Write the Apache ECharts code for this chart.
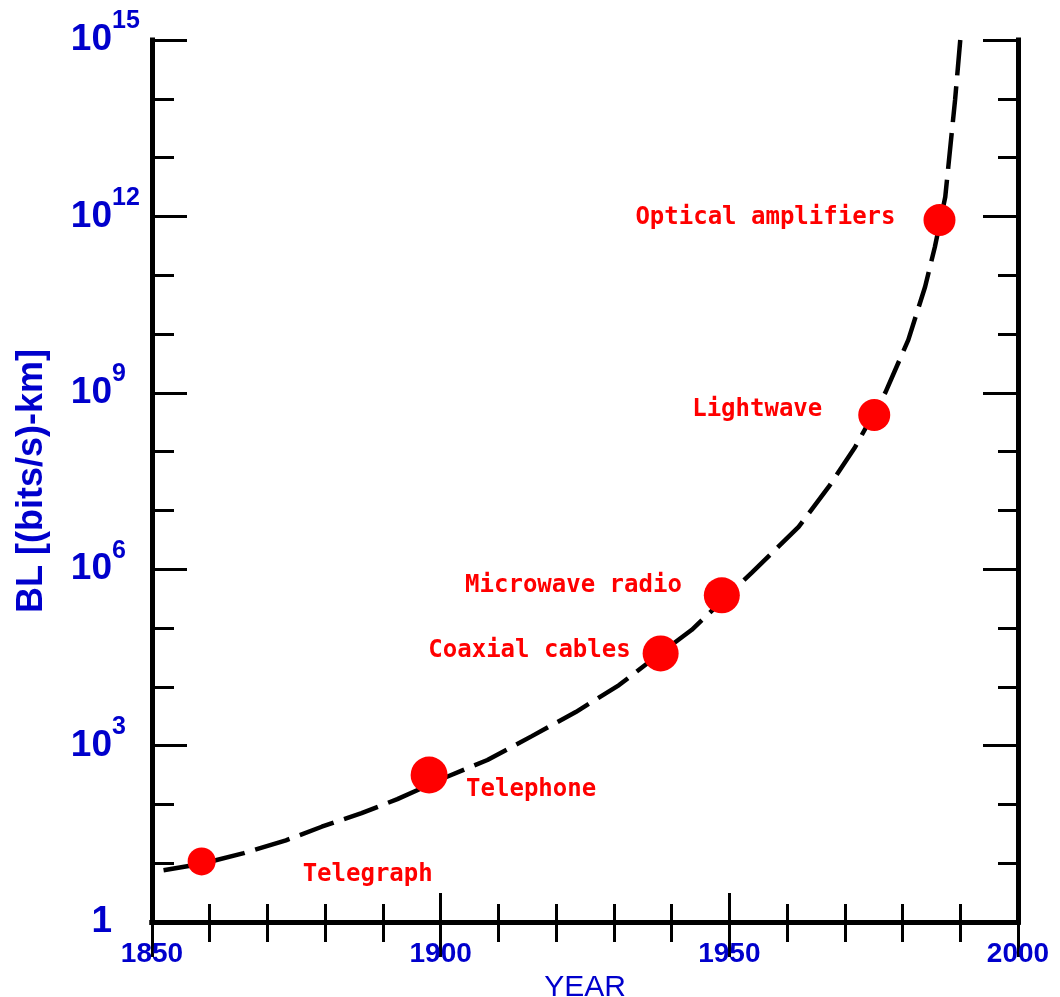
<!DOCTYPE html>
<html><head><meta charset="utf-8">
<script src="https://cdn.jsdelivr.net/npm/echarts@6.0.0/dist/echarts.min.js"></script>
<style>html,body{margin:0;padding:0;background:#fff}#c{width:1060px;height:997px}</style>
</head><body><div id="c"></div>
<script>
// ---- data ----
const milestoneNames = ['Telegraph', 'Telephone', 'Coaxial cables', 'Microwave radio', 'Lightwave', 'Optical amplifiers'];
const milestoneYears = [1858.6, 1898.0, 1938.1, 1948.7, 1975.1, 1986.4];
const milestoneBL = [1.07e1, 3.16e2, 3.7e4, 3.6e5, 4.2e8, 8.7e11];

const curveYears = [1852.0, 1858.6, 1865.9, 1873.2, 1879.4, 1886.3, 1892.5, 1901.1, 1908.1, 1915.8, 1923.4, 1930.9, 1936.6, 1943.5, 1953.9, 1962.0, 1967.2, 1971.8, 1977.0, 1981.0, 1983.9, 1985.6, 1987.4, 1989.1, 1990.0];
const curveBL = [7.6, 9.8, 14.8, 24.5, 41.7, 70.8, 123, 295, 569, 1.45e3, 3.72e3, 1.07e4, 2.88e4, 9.33e4, 8.71e5, 5.25e6, 2.51e7, 1.20e8, 1.0e9, 7.94e9, 6.31e10, 3.02e11, 2.14e12, 9.55e13, 1e15];

const yearTickLabels = [1850, 1900, 1950, 2000];
const blTickExponents = [0, 3, 6, 9, 12, 15];

// ---- styling (kept separate from data) ----
const BLUE = '#0000CC';
const RED = '#FF0000';
const SANS = 'Liberation Sans, Arial, sans-serif';
const dotSizes = [28, 37, 36, 36, 32, 32];
const labelPlacement = [
  {align: 'left', dx: 101, dy: 13},
  {align: 'left', dx: 37, dy: 15},
  {align: 'right', dx: -30, dy: -3},
  {align: 'right', dx: -40, dy: -10},
  {align: 'right', dx: -52, dy: -5},
  {align: 'right', dx: -44, dy: -2}
];

const chart = echarts.init(document.getElementById('c'), null, {renderer: 'canvas'});

const xMin = yearTickLabels[0], xMax = yearTickLabels[yearTickLabels.length - 1];
const xStep = yearTickLabels[1] - yearTickLabels[0];
const yMin = blTickExponents[0], yMax = blTickExponents[blTickExponents.length - 1];
const yStep = blTickExponents[1] - blTickExponents[0];

const axisLineStyle = {color: '#000', width: 5, cap: 'square'};
const tickStyle = {color: '#000', width: 3};

const curveData = curveYears.map((yr, i) => [yr, Math.log10(curveBL[i])]);
const dotData = milestoneYears.map((yr, i) => ({
  name: milestoneNames[i],
  value: [yr, Math.log10(milestoneBL[i])],
  symbolSize: dotSizes[i],
  label: {
    show: true,
    position: 'inside',
    align: labelPlacement[i].align,
    verticalAlign: 'middle',
    offset: [labelPlacement[i].dx, labelPlacement[i].dy],
    formatter: '{b}'
  }
}));

const hiddenY = {
  type: 'value', position: 'left', min: yMin, max: yMax, interval: yStep,
  axisLine: {show: false}, axisTick: {show: false}, splitLine: {show: false}
};

const option = {
  backgroundColor: '#fff',
  animation: false,
  grid: {left: 152, right: 42, top: 40, bottom: 75, containLabel: false, outerBoundsMode: 'none'},
  xAxis: [
    {
      type: 'value', position: 'bottom', min: xMin, max: xMax, interval: xStep,
      axisLine: {show: true, lineStyle: axisLineStyle},
      axisTick: {show: true, inside: true, length: 29, lineStyle: tickStyle},
      minorTick: {show: true, splitNumber: 5, length: 18, lineStyle: tickStyle},
      splitLine: {show: false},
      axisLabel: {color: BLUE, fontFamily: SANS, fontWeight: 'bold', fontSize: 28, margin: 18,
                  formatter: v => String(v)},
      name: 'YEAR', nameLocation: 'middle', nameGap: 48,
      nameTextStyle: {color: BLUE, fontFamily: SANS, fontSize: 30}
    },
    {
      type: 'value', position: 'top', min: xMin, max: xMax, interval: xStep,
      axisLine: {show: true, lineStyle: axisLineStyle},
      axisTick: {show: true, inside: true, length: 35, lineStyle: tickStyle},
      minorTick: {show: true, splitNumber: 5, length: 20, lineStyle: tickStyle},
      splitLine: {show: false},
      axisLabel: {show: false}
    }
  ],
  yAxis: [
    {
      type: 'value', position: 'left', min: yMin, max: yMax, interval: yStep,
      axisLine: {show: true, lineStyle: axisLineStyle},
      axisTick: {show: true, inside: true, length: 35, lineStyle: tickStyle},
      minorTick: {show: true, splitNumber: 3, length: 22, lineStyle: tickStyle},
      splitLine: {show: false},
      axisLabel: {
        margin: 40, verticalAlign: 'middle', padding: [6, 0, 0, 0],
        color: BLUE, fontFamily: SANS, fontWeight: 'bold', fontSize: 37,
        formatter: v => v === 0 ? '1' : '10'
      },
      name: 'BL [(bits/s)-km]', nameLocation: 'middle', nameRotate: 90, nameGap: 102,
      nameTextStyle: {color: BLUE, fontFamily: SANS, fontWeight: 'bold', fontSize: 36}
    },
    {
      type: 'value', position: 'right', min: yMin, max: yMax, interval: yStep,
      axisLine: {show: true, lineStyle: axisLineStyle},
      axisTick: {show: true, inside: true, length: 35, lineStyle: tickStyle},
      minorTick: {show: true, splitNumber: 3, length: 20, lineStyle: tickStyle},
      splitLine: {show: false},
      axisLabel: {show: false}
    },
    Object.assign({}, hiddenY, {
      axisLabel: {
        margin: 40, align: 'left', verticalAlign: 'bottom', padding: [0, 0, 6, 0],
        color: BLUE, fontFamily: SANS, fontWeight: 'bold', fontSize: 25,
        formatter: v => v === 0 ? '' : String(v)
      }
    })
  ],
  series: [
    {
      type: 'line', xAxisIndex: 0, yAxisIndex: 0,
      data: curveData, smooth: false,
      symbol: 'none', z: 2,
      lineStyle: {color: '#000', width: 4.5, type: [36, 11]}
    },
    {
      type: 'scatter', xAxisIndex: 0, yAxisIndex: 0,
      data: dotData, z: 3,
      itemStyle: {color: RED, opacity: 1},
      label: {color: RED, fontFamily: 'DejaVu Sans Mono, monospace', fontWeight: 'bold', fontSize: 24}
    }
  ]
};
chart.setOption(option);
</script>
</body></html>
